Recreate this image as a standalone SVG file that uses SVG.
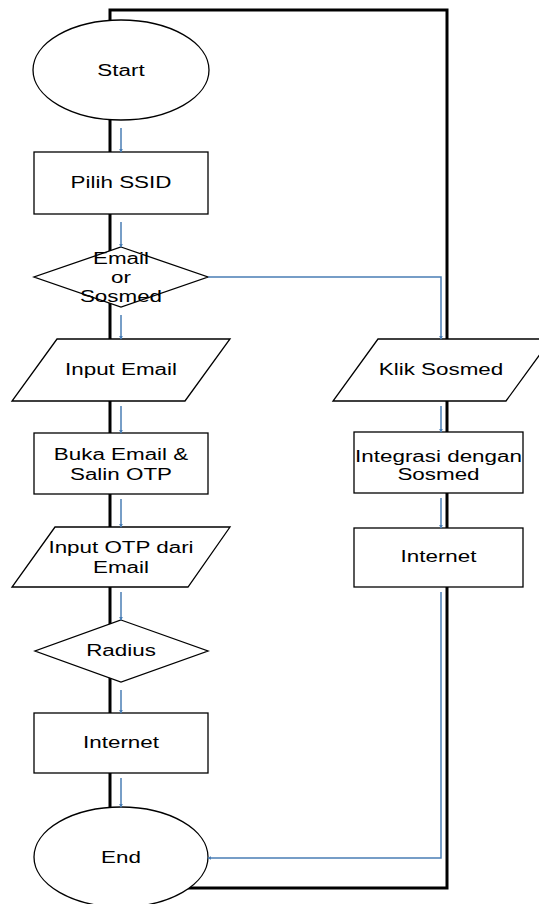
<svg xmlns="http://www.w3.org/2000/svg" width="539" height="904" viewBox="0 0 539 904">
<style>
.bg{fill:#fff}
.shape{fill:#fff;stroke:#000;stroke-width:1.3}
.frame{fill:none;stroke:#000;stroke-width:3}
.flow{fill:none;stroke:#4a7eb5;stroke-width:1.5}
text{font-family:"Liberation Sans",Arial,sans-serif;font-size:16px;fill:#000;text-anchor:middle}
</style>
<defs>
<marker id="ah" viewBox="0 0 6 6" refX="5" refY="3" markerWidth="4" markerHeight="4" orient="auto" markerUnits="userSpaceOnUse">
<path d="M0,0 L6,3 L0,6 z" fill="#4a7eb5"/>
</marker>
</defs>
<rect class="bg" width="539" height="904"/>
<g id="frame">
<path class="frame" d="M110,830 V10 H447 V888 H150"/>
</g>
<g id="start"><ellipse class="shape" cx="121" cy="70" rx="88" ry="50"/><text transform="matrix(1.4 0 0 1 121 76)">Start</text></g>
<g id="pilih-ssid"><rect class="shape" x="34" y="152" width="174" height="62"/><text transform="matrix(1.4 0 0 1 121 188)">Pilih SSID</text></g>
<g id="email-or-sosmed"><polygon class="shape" points="121,247 208,277 121,307 34,277"/><text transform="matrix(1.4 0 0 1 121 264)">Email</text><text transform="matrix(1.4 0 0 1 121 283)">or</text><text transform="matrix(1.4 0 0 1 121 302)">Sosmed</text></g>
<g id="input-email"><polygon class="shape" points="57,339 230,339 185,401 12,401"/><text transform="matrix(1.4 0 0 1 121 375)">Input Email</text></g>
<g id="buka-email"><rect class="shape" x="34" y="433" width="174" height="61"/><text transform="matrix(1.4 0 0 1 121 460)">Buka Email &amp;</text><text transform="matrix(1.4 0 0 1 121 480)">Salin OTP</text></g>
<g id="input-otp"><polygon class="shape" points="55,527 230,527 188,587 12,587"/><text transform="matrix(1.4 0 0 1 121 553)">Input OTP dari</text><text transform="matrix(1.4 0 0 1 121 573)">Email</text></g>
<g id="radius"><polygon class="shape" points="121,620 208,651 121,682 35,651"/><text transform="matrix(1.4 0 0 1 121 656)">Radius</text></g>
<g id="internet-left"><rect class="shape" x="34" y="713" width="174" height="60"/><text transform="matrix(1.4 0 0 1 121 748)">Internet</text></g>
<g id="end"><ellipse class="shape" cx="121" cy="857" rx="87" ry="50"/><text transform="matrix(1.4 0 0 1 121 863)">End</text></g>
<g id="klik-sosmed"><polygon class="shape" points="378,339 551,339 506,401 333,401"/><text transform="matrix(1.4 0 0 1 441 375)">Klik Sosmed</text></g>
<g id="integrasi"><rect class="shape" x="354" y="432" width="169" height="61"/><text transform="matrix(1.4 0 0 1 438.5 462)">Integrasi dengan</text><text transform="matrix(1.4 0 0 1 438.5 480)">Sosmed</text></g>
<g id="internet-right"><rect class="shape" x="354" y="528" width="169" height="59"/><text transform="matrix(1.4 0 0 1 438.5 562)">Internet</text></g>
<g id="connectors">
<path class="flow" marker-end="url(#ah)" d="M121,128 V152"/>
<path class="flow" marker-end="url(#ah)" d="M121,222 V247"/>
<path class="flow" marker-end="url(#ah)" d="M121,315 V339"/>
<path class="flow" marker-end="url(#ah)" d="M121,406 V433"/>
<path class="flow" marker-end="url(#ah)" d="M121,499 V527"/>
<path class="flow" marker-end="url(#ah)" d="M121,592 V620"/>
<path class="flow" marker-end="url(#ah)" d="M121,690 V713"/>
<path class="flow" marker-end="url(#ah)" d="M121,778 V807"/>
<path class="flow" marker-end="url(#ah)" d="M208,277 H441 V339"/>
<path class="flow" marker-end="url(#ah)" d="M441,406 V432"/>
<path class="flow" marker-end="url(#ah)" d="M441,498 V528"/>
<path class="flow" marker-end="url(#ah)" d="M441,592 V858 H208"/>
</g>
</svg>
